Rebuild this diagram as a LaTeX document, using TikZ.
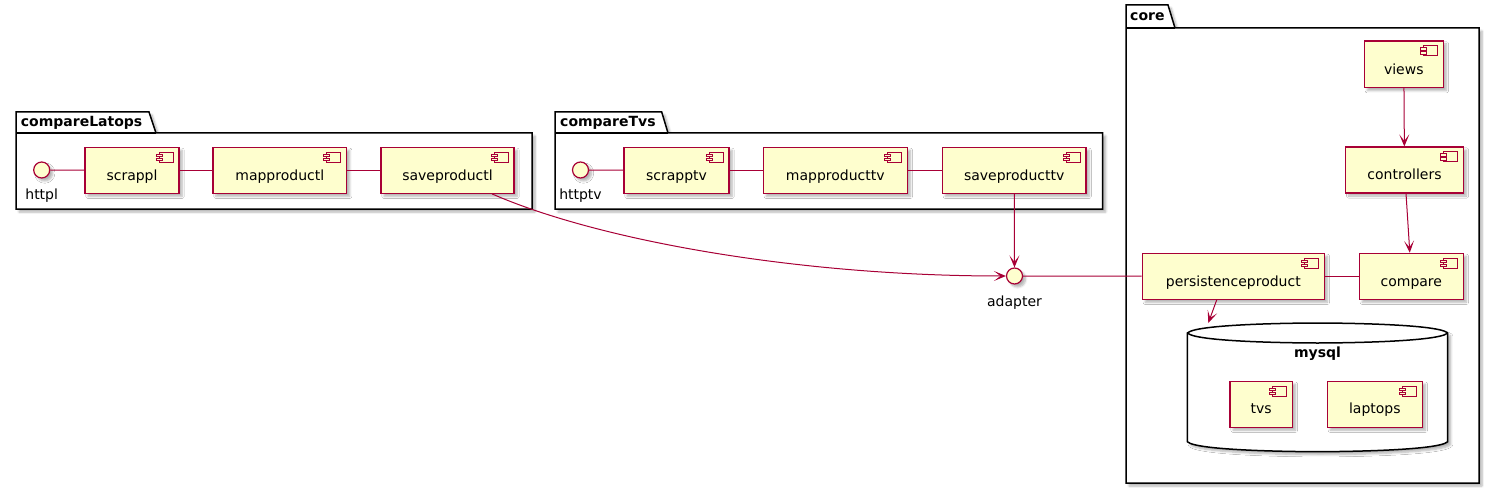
\documentclass[tikz,border=0pt]{standalone}
\usepackage{fontspec}
\setmainfont{DejaVu Sans}
\usetikzlibrary{arrows.meta,shadows.blur}
\definecolor{umlred}{HTML}{A80036}
\definecolor{umlfill}{HTML}{FEFECE}
\begin{document}
\begin{tikzpicture}[
                        x=1pt, y=-1pt,
                        >={Stealth[length=12pt,width=10pt,inset=6.5pt]},
                        umlshadow/.style={blur shadow={shadow xshift=3pt,shadow yshift=-3pt,shadow opacity=30,shadow blur steps=6}},
                        pkg/.style={draw=black, fill=white, line width=1.5pt, umlshadow},
                        pkgtitle/.style={font=\fontsize{14pt}{16pt}\selectfont\bfseries, inner sep=0pt},
                        comp/.style={rectangle, draw=umlred, fill=umlfill, line width=1.2pt, minimum height=46pt,
                            text height=19.5pt, text depth=0pt, font=\fontsize{14pt}{16pt}\selectfont, umlshadow,
                            path picture={
                                \draw[umlred, line width=1pt, fill=umlfill] ([shift={(-20pt,-5pt)}]path picture bounding box.north east) rectangle ++(14pt,-10pt);
                                \draw[umlred, line width=1pt, fill=umlfill] ([shift={(-23pt,-7pt)}]path picture bounding box.north east) rectangle ++(6pt,-2.5pt);
                                \draw[umlred, line width=1pt, fill=umlfill] ([shift={(-23pt,-11pt)}]path picture bounding box.north east) rectangle ++(6pt,-2.5pt);
                            }},
                        iface/.style={circle, draw=umlred, fill=umlfill, line width=1.2pt, minimum size=16pt, inner sep=0pt, umlshadow},
                        ifacename/.style={anchor=base, inner sep=0pt, font=\fontsize{14pt}{16pt}\selectfont},
                        conn/.style={draw=umlred, line width=1pt}
                    ]
                    \useasboundingbox (0,0) rectangle (1495,489);

                    % Packages
                    \draw[pkg] (16,112) -- (149,112) -- (156,133) -- (532,133) -- (532,209) -- (16,209) -- cycle;
                    \draw[line width=1.5pt] (16,133) -- (156,133);
                    \node[pkgtitle, anchor=base west] (latopstitle) at (20.7,126.7) {compareLatops};

                    \draw[pkg] (555,112) -- (661.7,112) -- (668,133) -- (1102.7,133) -- (1102.7,209) -- (555,209) -- cycle;
                    \draw[line width=1.5pt] (555,133) -- (668,133);
                    \node[pkgtitle, anchor=base west] (tvstitle) at (560,126.7) {compareTvs};

                    \draw[pkg] (1126,5) -- (1168,5) -- (1175,28) -- (1479,28) -- (1479,483) -- (1126,483) -- cycle;
                    \draw[line width=1.5pt] (1126,28) -- (1175,28);
                    \node[pkgtitle, anchor=base west] (coretitle) at (1130,20.7) {core};

                    % Database
                    \draw[pkg] (1187.3,333) .. controls (1197.3,323) and (1317.5,323) .. (1317.5,323)
                        .. controls (1317.5,323) and (1437.7,323) .. (1447.7,333) -- (1447.7,441.7)
                        .. controls (1437.7,451.7) and (1317.5,451.7) .. (1317.5,451.7)
                        .. controls (1317.5,451.7) and (1197.3,451.7) .. (1187.3,441.7) -- cycle;
                    \draw[line width=1.5pt] (1187.3,333) .. controls (1197.3,343) and (1317.5,343) .. (1317.5,343)
                        .. controls (1317.5,343) and (1437.7,343) .. (1447.7,333);
                    \node[pkgtitle, anchor=base] (mysqlname) at (1317.5,357.7) {mysql};
                    \coordinate (mysqlin) at (1208.3,323);

                    % Blocks
                    \node[iface] (httpl) at (41.7,170) {};
                    \node[ifacename] (httplname) at (41.7,200) {httpl};
                    \node[comp, minimum width=94pt] (scrappl) at (132,170.3) {scrappl};
                    \node[comp, minimum width=133.7pt] (mapproductl) at (279.8,170.3) {mapproductl};
                    \node[comp, minimum width=133pt] (saveproductl) at (447.5,170.3) {saveproductl};

                    \node[iface] (httptv) at (580.5,170) {};
                    \node[ifacename] (httptvname) at (580.5,200) {httptv};
                    \node[comp, minimum width=105pt] (scrapptv) at (676.5,170.3) {scrapptv};
                    \node[comp, minimum width=144pt] (mapproducttv) at (835.3,170.3) {mapproducttv};
                    \node[comp, minimum width=143.7pt] (saveproducttv) at (1014.2,170.3) {saveproducttv};

                    \node[iface] (adapter) at (1014.5,276) {};
                    \node[ifacename] (adaptername) at (1014.5,306) {adapter};

                    \node[comp, minimum width=79pt, minimum height=46.7pt] (views) at (1403.8,64.3) {views};
                    \node[comp, minimum width=117.6pt] (controllers) at (1404.5,170) {controllers};
                    \node[comp, minimum width=182pt] (persistenceproduct) at (1233.3,276.3) {persistenceproduct};
                    \node[comp, minimum width=104pt] (compare) at (1411.3,276.3) {compare};
                    \node[comp, minimum width=62.3pt] (tvs) at (1261.2,404.2) {tvs};
                    \node[comp, minimum width=95pt] (laptops) at (1374.8,404.2) {laptops};

                    % Connections
                    \draw[conn] (httpl) -- (scrappl);
                    \draw[conn] (scrappl) -- (mapproductl);
                    \draw[conn] (mapproductl) -- (saveproductl);
                    \draw[conn] (httptv) -- (scrapptv);
                    \draw[conn] (scrapptv) -- (mapproducttv);
                    \draw[conn] (mapproducttv) -- (saveproducttv);
                    \draw[conn,->] ([xshift=44.5pt]saveproductl.south) .. controls (600,241) and (800,276) .. (adapter);
                    \draw[conn,->] (saveproducttv) -- (adapter);
                    \draw[conn] (adapter) -- (persistenceproduct);
                    \draw[conn] (persistenceproduct) -- (compare);
                    \draw[conn,->] (views) -- (controllers);
                    \draw[conn,->] (controllers) -- (compare);
                    \draw[conn,->] ([xshift=-16.6pt]persistenceproduct.south) -- (mysqlin);
                \end{tikzpicture}
\end{document}
